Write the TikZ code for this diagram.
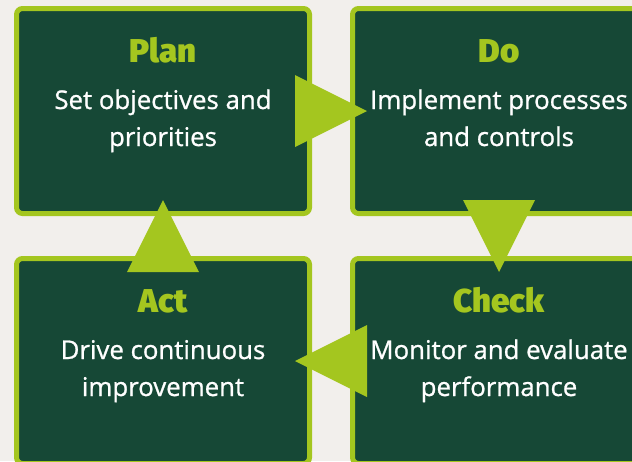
\documentclass[tikz,border=0pt]{standalone}
\usepackage{fontspec}
\usetikzlibrary{calc}
\setmainfont{Open Sans}[FakeBold=0.9]
\IfFontExistsTF{Fira Sans Black}{\newfontfamily\ttlfont{Fira Sans Black}}{%
  \IfFontExistsTF{Lato Black}{\newfontfamily\ttlfont{Lato Black}}{%
    \IfFontExistsTF{Open Sans ExtraBold}{\newfontfamily\ttlfont{Open Sans ExtraBold}}{%
      \newfontfamily\ttlfont{Open Sans}[UprightFont={* Bold}]}}}
\definecolor{bgc}{HTML}{F2EFEC}
\definecolor{dgreen}{HTML}{164836}
\definecolor{lgreen}{HTML}{A4C61F}
\tikzset{
  pdcabox/.style={draw=lgreen, fill=dgreen, line width=5pt, rounded corners=6pt,
    minimum width=293pt, minimum height=205pt, inner sep=0pt},
  ttl/.style={text=lgreen, font=\ttlfont\fontsize{33}{38}\selectfont, anchor=base, inner sep=0pt},
  body/.style={text=white, font=\fontsize{25.8}{37}\selectfont, align=center, anchor=base, inner sep=0pt},
  arrowtri/.style={fill=lgreen}
}
\begin{document}
\begin{tikzpicture}[x=1pt,y=-1pt]
\useasboundingbox (0,0) rectangle (632,461);
\fill[bgc] (0,0) rectangle (632,461);
\node[pdcabox] (plan) at (163,111) {};
\node[pdcabox] (do) at (499,111) {};
\node[pdcabox] (act) at (163,361) {};
\node[pdcabox] (check) at (499,361) {};
\node[ttl] (plant) at ($(plan)+(0,-48.3)$) {Plan};
\node[ttl] (dot) at ($(do)+(0,-48.3)$) {Do};
\node[ttl] (actt) at ($(act)+(0,-48.3)$) {Act};
\node[ttl] (checkt) at ($(check)+(0,-48.3)$) {Check};
\node[body] (planb) at ($(plan)+(0,35)$) {Set objectives and\\priorities};
\node[body] (dob) at ($(do)+(0,35)$) {Implement processes\\and controls};
\node[body] (actb) at ($(act)+(0,35)$) {Drive continuous\\improvement};
\node[body] (checkb) at ($(check)+(0,35)$) {Monitor and evaluate\\performance};
\coordinate (pd) at ($(plan.east)!0.5!(do.west)$);
\coordinate (dc) at ($(do.south)!0.5!(check.north)$);
\coordinate (ca) at ($(check.west)!0.5!(act.east)$);
\coordinate (ap) at ($(act.north)!0.5!(plan.south)$);
\fill[arrowtri] ($(pd)+(-36,-36)$) -- ($(pd)+(36,0)$) -- ($(pd)+(-36,36)$) -- cycle;
\fill[arrowtri] ($(dc)+(-36,-36)$) -- ($(dc)+(36,-36)$) -- ($(dc)+(0,36)$) -- cycle;
\fill[arrowtri] ($(ca)+(36,-36)$) -- ($(ca)+(36,36)$) -- ($(ca)+(-36,0)$) -- cycle;
\fill[arrowtri] ($(ap)+(-36,36)$) -- ($(ap)+(36,36)$) -- ($(ap)+(0,-36)$) -- cycle;
\end{tikzpicture}
\end{document}
